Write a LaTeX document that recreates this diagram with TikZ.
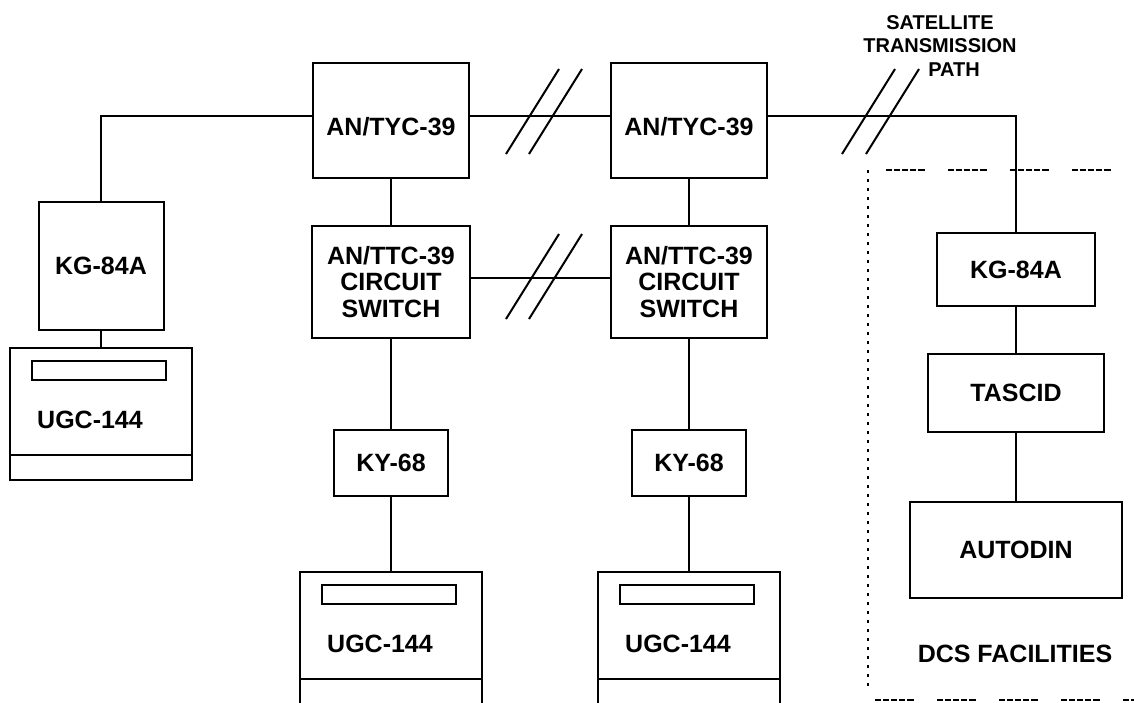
\documentclass[tikz,border=0pt]{standalone}
\usepackage{fontspec}
\setmainfont{Liberation Sans}
\usetikzlibrary{calc}

\begin{document}
\begin{tikzpicture}[x=0.5pt, y=-0.5pt, line width=1pt,
  unit/.style={draw, rectangle, inner sep=0pt, align=center,
    font=\fontsize{12.5}{13.25}\selectfont\bfseries},
  tag/.style={inner sep=0pt, font=\fontsize{12.5}{13.25}\selectfont\bfseries},
  terminal/.style={draw, rectangle, inner sep=0pt, minimum width=91pt, minimum height=66pt},
  frame/.style={line width=0.6pt,
    dash pattern=on 3pt off 1pt on 3pt off 1pt on 3pt off 1pt on 3pt off 1pt on 3.5pt off 11.5pt}]

% Page
\useasboundingbox (0,0) rectangle (1134,702);
\clip (0,0) rectangle (1134,702);

% Multiplexers
\node[unit, minimum width=78pt, minimum height=57.5pt,
  label={[tag, yshift=-3.25pt]center:AN/TYC-39}] (tycA) at (391,120.5) {};
\node[unit, minimum width=78pt, minimum height=57.5pt,
  label={[tag, yshift=-3.25pt]center:AN/TYC-39}] (tycB) at (689,120.5) {};

% Circuit switches
\node[unit, minimum width=79pt, minimum height=56pt] (ttcA) at (391,282) {AN/TTC-39\\CIRCUIT\\SWITCH};
\node[unit, minimum width=78pt, minimum height=56pt] (ttcB) at (689,282) {AN/TTC-39\\CIRCUIT\\SWITCH};

% Crypto units
\node[unit, minimum width=62.5pt, minimum height=64pt] (kgA) at (101,266) {KG-84A};
\node[unit, minimum width=79pt, minimum height=36.5pt] (kgB) at (1016,269.5) {KG-84A};
\node[unit, minimum width=57pt, minimum height=33pt] (kyA) at (391,463) {KY-68};
\node[unit, minimum width=57pt, minimum height=33pt] (kyB) at (689,463) {KY-68};

% DCS side
\node[unit, minimum width=88pt, minimum height=39pt] (tascid) at (1016,393) {TASCID};
\node[unit, minimum width=106pt, minimum height=48pt] (autodin) at (1016,550) {AUTODIN};

% Terminals
\foreach \x/\y/\n in {101/348/ugcA, 391/572/ugcB, 689/572/ugcC} {
  \node[terminal] (\n) at (\x,\y+66) {};
  \draw ($(\n.north west)+(23,14)$) rectangle ++(134,19);
  \draw ($(\n.north west)+(0,108)$) -- ($(\n.north east)+(0,108)$);
  \node[tag] at ($(\n.center)+(-11,6)$) {UGC-144};
}

% Links
\draw (kgA.north) |- ([yshift=2.25pt]tycA.west);
\draw ([yshift=2.25pt]tycA.east) -- ([yshift=2.25pt]tycB.west);
\draw ([yshift=2.25pt]tycB.east) -| (kgB.north);
\draw ([yshift=2pt]ttcA.east) -- ([yshift=2pt]ttcB.west);
\draw (kgA) -- (ugcA);
\draw (tycA) -- (ttcA) -- (kyA) -- (ugcB);
\draw (tycB) -- (ttcB) -- (kyB) -- (ugcC);
\draw (kgB) -- (tascid) -- (autodin);

% Break marks
\foreach \x/\y in {506/154, 529/154, 506/319, 529/319, 842/154, 866/154}
  \draw (\x,\y) -- ++(53,-85);

% Satellite path
\node[align=center, inner sep=0pt, font=\fontsize{10}{11.75}\selectfont\bfseries] (sat) at (940,46)
  {SATELLITE\\TRANSMISSION\\\hspace*{14pt}PATH};

% DCS boundary
\draw[frame] (886,170) -- (1134,170);
\draw[line width=0.8pt, dash pattern=on 1.5pt off 3pt] (868,170) -- (868,690);
\draw[frame] (875,700) -- (1134,700);
\node[tag] (dcs) at (1015,654) {DCS FACILITIES};

\end{tikzpicture}
\end{document}
